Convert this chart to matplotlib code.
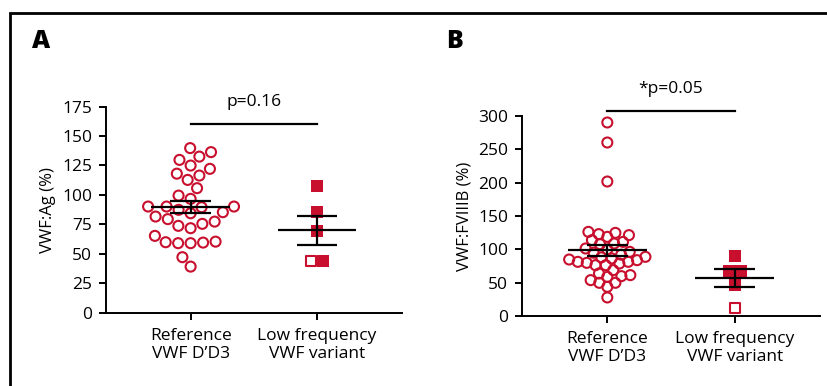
import numpy as np
import matplotlib.pyplot as plt
from matplotlib.patches import Rectangle

plt.rcParams["font.family"] = ["Open Sans", "DejaVu Sans"]

RED = "#C8102E"

groups = ["Reference\nVWF D\u2019D3", "Low frequency\nVWF variant"]

# panel A: VWF:Ag (%)
ag_reference = [139.7, 136.3, 132.5, 129.7, 122.1, 124.9, 116.4, 112.7, 118.0,
                105.7, 99.4, 96.6, 87.3, 85.3, 90.1, 90.1, 89.5, 84.4, 90.1,
                81.6, 77.3, 73.7, 71.7, 75.4, 79.4, 65.2, 60.3, 59.5, 59.0,
                59.0, 59.8, 47.1, 39.1]
ag_variant = [107.6, 85.8, 69.4, 43.9, 43.9]
ag_variant_open = [False, False, False, True, False]

# panel B: VWF:FVIIIB (%)
fviiib_reference = [290.0, 260.0, 201.6, 124.7, 126.2, 122.8, 121.3, 118.7,
                    107.8, 111.2, 108.8, 113.8, 101.3, 96.3, 81.3, 81.3, 78.8,
                    84.8, 76.3, 86.4, 88.8, 79.8, 83.8, 76.3, 68.9, 63.9, 61.4,
                    59.9, 53.9, 49.9, 49.9, 58.8, 43.9, 28.0, 92.0, 95.0,
                    100.0, 88.0]
fviiib_variant = [90.3, 67.8, 67.8, 46.4, 11.5]
fviiib_variant_open = [False, False, False, False, True]


def to_data_x(ax, center, offsets_px):
    trans = ax.transData
    x0 = trans.transform((center, 0))[0]
    inv = trans.inverted()
    return [inv.transform((x0 + c, 0))[0] for c in offsets_px]


def swarm(ax, values, center, diameter):
    # simple beeswarm in pixel space
    trans = ax.transData
    ys = [trans.transform((center, v))[1] for v in values]
    order = np.argsort(ys, kind="stable")
    placed = []
    offsets = np.zeros(len(values))
    for i in order:
        y = ys[i]
        candidates = [0.0]
        for px, py in placed:
            dy = y - py
            if abs(dy) < diameter:
                dx = np.sqrt(diameter ** 2 - dy ** 2)
                candidates += [px - dx, px + dx]
        candidates.sort(key=lambda c: (abs(c), c))
        chosen = 0.0
        for c in candidates:
            if all((c - px) ** 2 + (y - py) ** 2 >= diameter ** 2 - 1e-6 for px, py in placed):
                chosen = c
                break
        placed.append((chosen, y))
        offsets[i] = chosen
    return to_data_x(ax, center, offsets)


def rows(ax, values, center, spacing):
    # equal values side by side, centred on the group
    offsets = np.zeros(len(values))
    for v in set(values):
        idx = [i for i, w in enumerate(values) if w == v]
        k = len(idx)
        for j, i in enumerate(idx):
            offsets[i] = (j - (k - 1) / 2) * spacing
    return to_data_x(ax, center, offsets)


def mean_sem(ax, values, center):
    values = np.asarray(values)
    m = values.mean()
    sem = values.std(ddof=1) / np.sqrt(len(values))
    ax.hlines(m, center - 0.31, center + 0.31, color="black", lw=1.6, zorder=5)
    ax.hlines([m - sem, m + sem], center - 0.16, center + 0.16, color="black", lw=1.6, zorder=5)
    ax.vlines(center, m - sem, m + sem, color="black", lw=1.6, zorder=5)


def panel(ax, reference, variant, variant_open, ylim, yticks, ylabel,
          bar_y, ptext, dens):
    ax.set_xlim(-0.67, 1.67)
    ax.set_ylim(*ylim)
    ax.set_yticks(yticks)
    ax.set_xticks([0, 1])
    ax.set_xticklabels(groups, fontsize=12.5, linespacing=1.15)
    ax.tick_params(axis="y", labelsize=12.5, length=5, width=1.4, pad=5)
    ax.tick_params(axis="x", length=5, width=1.4, pad=6)
    ax.set_ylabel(ylabel, fontsize=12, labelpad=4)
    for side in ["top", "right"]:
        ax.spines[side].set_visible(False)
    for side in ["left", "bottom"]:
        ax.spines[side].set_linewidth(1.4)

    xr = swarm(ax, reference, 0, dens)
    ax.scatter(xr, reference, s=52, facecolors="none", edgecolors=RED,
               linewidths=1.5, zorder=3, clip_on=False)

    xv = rows(ax, variant, 1, 12)
    for x, v, is_open in zip(xv, variant, variant_open):
        if is_open:
            ax.scatter(x, v, s=62, marker="s", facecolors="white", edgecolors=RED,
                       linewidths=1.5, zorder=3)
        else:
            ax.scatter(x, v, s=76, marker="s", color=RED, linewidths=0, zorder=3)

    mean_sem(ax, reference, 0)
    mean_sem(ax, variant, 1)

    ax.plot([0, 1], [bar_y, bar_y], color="black", lw=1.6, clip_on=False)
    ax.annotate(ptext, xy=(0.5, bar_y), xytext=(0, 10), textcoords="offset points",
                ha="center", va="bottom", fontsize=12.5, annotation_clip=False)


fig = plt.figure(figsize=(8.27, 3.86), dpi=100)

ax_a = fig.add_axes([0.128, 0.190, 0.358, 0.534])
panel(ax_a, ag_reference, ag_variant, ag_variant_open, (0, 175),
      range(0, 176, 25), "VWF:Ag (%)", 160, "p=0.16", 12.5)

ax_b = fig.add_axes([0.631, 0.181, 0.361, 0.519])
panel(ax_b, fviiib_reference, fviiib_variant, fviiib_variant_open, (0, 300),
      range(0, 301, 50), "VWF:FVIIIB (%)", 307, "*p=0.05", 9)

fig.text(41 / 827, 1 - 42 / 386, "A", fontsize=18, fontweight="heavy",
         ha="center", va="center")
fig.text(454 / 827, 1 - 42 / 386, "B", fontsize=18, fontweight="heavy",
         ha="center", va="center")

frame = Rectangle((10 / 827, -0.1), 1.2, 1 - 13 / 386 + 0.1, transform=fig.transFigure,
                  fill=False, edgecolor="black", lw=2, clip_on=False)
fig.add_artist(frame)

fig.savefig("out.png", dpi=100)
